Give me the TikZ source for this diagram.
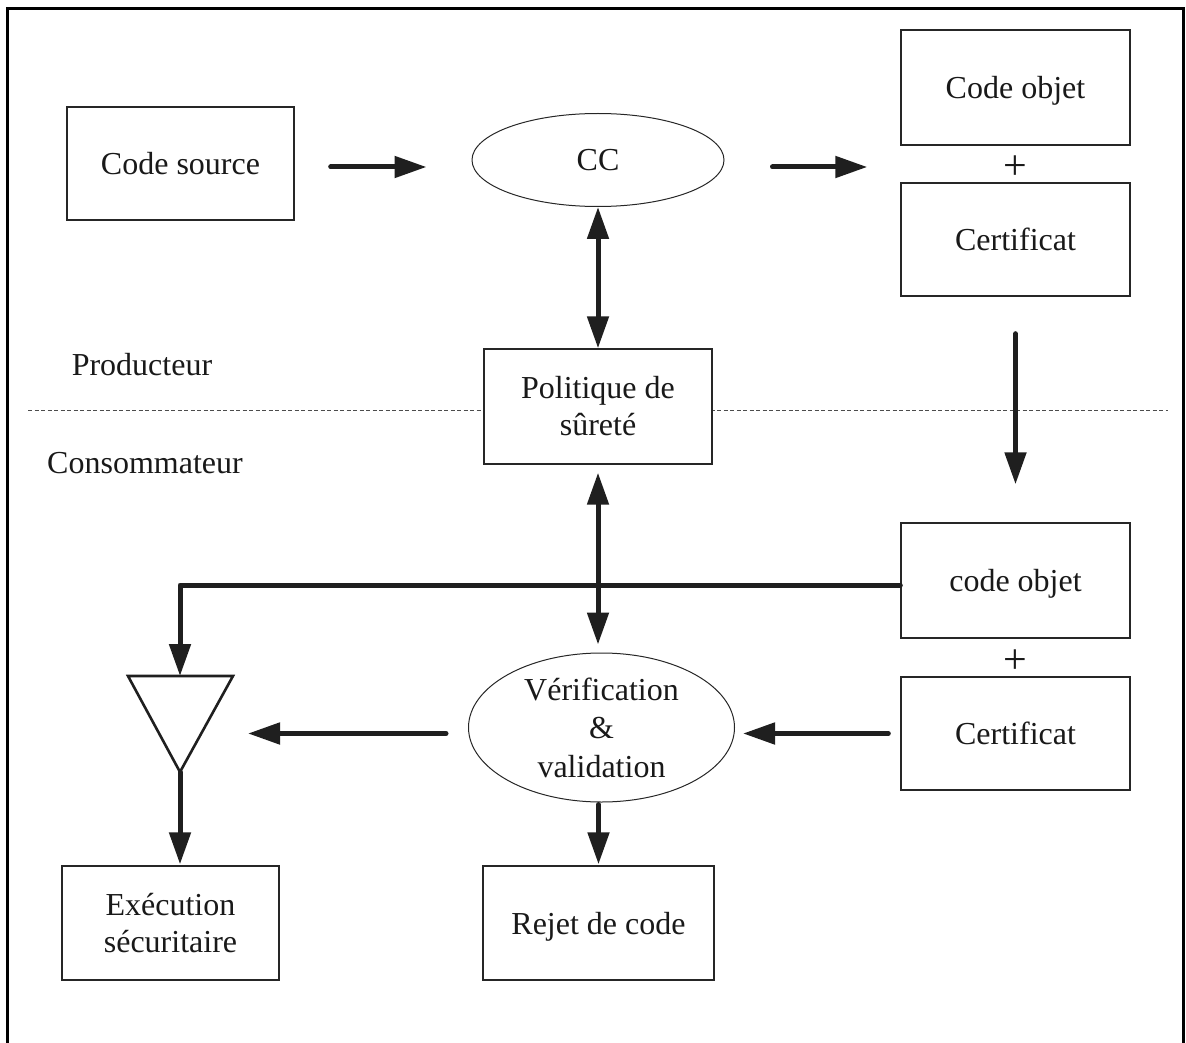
\documentclass[tikz,border=0pt]{standalone}
\usepackage{fontspec}
\setmainfont{Liberation Serif}
\usetikzlibrary{arrows.meta,shapes.geometric}
\begin{document}
\begin{tikzpicture}[x=1pt,y=-1pt,
  txt/.style={font=\fontsize{32}{37}\selectfont, align=center, text=black!90},
  one/.style={text height=22pt, text depth=0pt},
  box/.style={txt, draw=black!85, line width=1.4pt, fill=white, inner sep=0pt},
  oval/.style={txt, draw=black!85, line width=1pt, ellipse, inner sep=0pt},
  plus/.style={font=\fontsize{42}{42}\selectfont, text=black!90, inner sep=0pt},
  arr/.style={line width=5pt, black!88, line cap=round, line join=round,
    -{Triangle[length=32pt,width=21pt]}},
  darr/.style={line width=5pt, black!88,
    {Triangle[length=32pt,width=21pt]}-{Triangle[length=32pt,width=21pt]}}]
\useasboundingbox (0,0) rectangle (1186,1043);
% outer frame (open at the bottom)
\draw[line width=3pt] (7,1043) -- (7,9) -- (1183,9) -- (1183,1043);

% separation between producer and consumer
\draw[black!70, line width=1pt, dash pattern=on 4pt off 2.5pt] (28,410) -- (1168,410);
\node[txt] (prod) at (142,365) {Producteur};
\node[txt] (cons) at (145,463) {Consommateur};

% producer side
\node[box, one, minimum width=227pt, minimum height=113pt] (src) at (180.5,163.5) {Code source};
\node[oval, one, minimum width=252pt, minimum height=93pt] (cc) at (598,160) {CC};
\node[box, one, minimum width=229pt, minimum height=115pt] (obj1) at (1015.5,87.5) {Code objet};
\node[plus] (plus1) at (1015,168) {+};
\node[box, one, minimum width=229pt, minimum height=113pt] (cert1) at (1015.5,239.5) {Certificat};
\node[box, minimum width=228pt, minimum height=115pt] (pol) at (598,406.5) {Politique de\\sûreté};

% consumer side
\node[box, one, minimum width=229pt, minimum height=115pt] (obj2) at (1015.5,580.5) {code objet};
\node[plus] (plus2) at (1015,662) {+};
\node[box, one, minimum width=229pt, minimum height=113pt] (cert2) at (1015.5,733.5) {Certificat};
\node[oval, font=\fontsize{32}{38.5}\selectfont, minimum width=266pt, minimum height=149pt] (verif) at (601.5,727.5) {Vérification\\\&\\validation};
\node[box, minimum width=217pt, minimum height=114pt] (exec) at (170.5,923) {Exécution\\sécuritaire};
\node[box, one, minimum width=231pt, minimum height=114pt] (rejet) at (598.5,923) {Rejet de code};

% decision triangle
\coordinate (tritop) at (180,676);
\coordinate (tribot) at (180,772);
\coordinate (triright) at (216,733);
\draw[line width=2.6pt, black!88, line join=miter] (128,676) -- (233,676) -- (tribot) -- cycle;

% connectors
\draw[arr, shorten <=36pt, shorten >=45pt] ([yshift=-3.5pt]src.east) -- ([yshift=-3.5pt]src.east -| cc.west);
\draw[arr, shorten <=48pt, shorten >=33pt] ([yshift=-7pt]cc.east) -- ([yshift=-7pt]cc.east -| obj1.west);
\draw[darr] (cc.south) -- (pol.north);
\draw[arr, shorten <=37pt, shorten >=38pt] (cert1.south) -- (obj2.north);
\draw[arr] ([yshift=-4.5pt]obj2.west) -| (tritop);
\draw[darr, shorten <=8pt, shorten >=8pt] (pol.south) -- (verif.north -| pol.south);
\draw[arr, shorten <=22pt, shorten >=32pt] ([yshift=-6pt]verif.west) -- ([yshift=-6pt]verif.west -| triright);
\draw[arr, shorten <=12pt, shorten >=8pt] (cert2.west) -- (cert2.west -| verif.east);
\draw[arr, shorten <=2pt, shorten >=1pt] (verif.south -| rejet.north) -- (rejet.north);
\draw[arr, shorten >=1pt] (tribot) -- (exec.north -| tribot);
\end{tikzpicture}
\end{document}
